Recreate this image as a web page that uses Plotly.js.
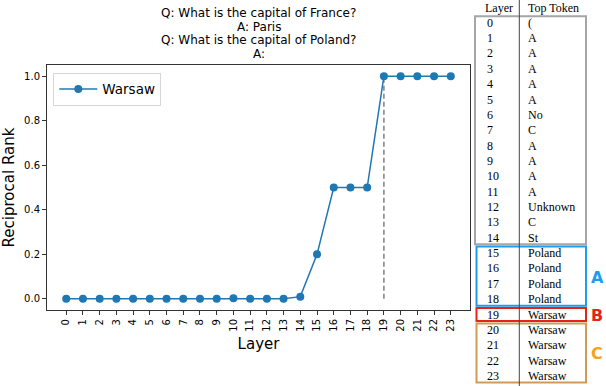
<!DOCTYPE html>
<html>
<head>
<meta charset="utf-8">
<script src="https://cdn.plot.ly/plotly-3.0.1.min.js"></script>
<style>html,body{margin:0;padding:0;background:#fff;}#chart{width:606px;height:386px;}</style>
</head>
<body>
<div id="chart"></div>
<script>
// ---- data ----
const layers = [0,1,2,3,4,5,6,7,8,9,10,11,12,13,14,15,16,17,18,19,20,21,22,23];
const reciprocalRank = [0,0,0,0,0,0,0,0,0,0,0.003,0,0,0,0.01,0.2,0.5,0.5,0.5,1,1,1,1,1];
const seriesName = 'Warsaw';
const answerLayer = 19;
const topTokens = ['(', 'A','A','A','A','A','No','C','A','A','A','A','Unknown','C','St',
                   'Poland','Poland','Poland','Poland','Warsaw','Warsaw','Warsaw','Warsaw','Warsaw'];
const tableHeader = ['Layer', 'Top Token'];
const groupLabels = ['', 'A', 'B', 'C'];
const groupStart = [0, 15, 19, 20];
const groupEnd = [14, 18, 19, 23];
const titleLines = ['Q: What is the capital of France?', 'A: Paris', 'Q: What is the capital of Poland?', 'A:'];
const yTicks = [0, 0.2, 0.4, 0.6, 0.8, 1.0];

// ---- layout helpers (pixel -> paper) ----
const W = 606, H = 386, L = 47, R = 470, T = 65, B = 310;
const px = x => (x - L) / (R - L);
const py = y => (B - y) / (B - T);
const rowY = i => 22.7 + 15.36 * i;

const groupLineColors = ['#a6a6a6', '#1f9bf0', '#e3241b', '#d29b55'];
const groupTextColors = ['#a6a6a6', '#1f9bf0', '#e3241b', '#f7a21b'];

const annotations = [];
const shapes = [];
const sans = 'DejaVu Sans, sans-serif';
const serif = 'Liberation Serif, Times New Roman, serif';

titleLines.forEach((t, i) => {
  annotations.push({xref:'paper', yref:'paper', x:0.5, y:py(12.7 + 13.9*i), text:t, showarrow:false,
    xanchor:'center', yanchor:'middle', font:{family:sans, size:12, color:'#000'}});
});

// table header
annotations.push({xref:'paper', yref:'paper', x:px(483), y:py(7.5), text:tableHeader[0], showarrow:false,
  xanchor:'left', yanchor:'middle', font:{family:serif, size:12, color:'#000'}});
annotations.push({xref:'paper', yref:'paper', x:px(526), y:py(7.5), text:tableHeader[1], showarrow:false,
  xanchor:'left', yanchor:'middle', font:{family:serif, size:12, color:'#000'}});

layers.forEach((l, i) => {
  annotations.push({xref:'paper', yref:'paper', x:px(484.5), y:py(rowY(i)), text:String(l), showarrow:false,
    xanchor:'left', yanchor:'middle', font:{family:serif, size:12, color:'#000'}});
  annotations.push({xref:'paper', yref:'paper', x:px(526), y:py(rowY(i)), text:topTokens[i], showarrow:false,
    xanchor:'left', yanchor:'middle', font:{family:serif, size:12, color:'#000'}});
});

groupLabels.forEach((g, k) => {
  const top = rowY(groupStart[k]) - 6.5;
  const bot = rowY(groupEnd[k]) + 6.5;
  const x0 = k === 0 ? 475 : 476.5;
  shapes.push({type:'rect', xref:'paper', yref:'paper', x0:px(x0), x1:px(586), y0:py(bot), y1:py(top),
    line:{color:groupLineColors[k], width:2}, fillcolor:'rgba(0,0,0,0)', layer:'above'});
  if (g) {
    annotations.push({xref:'paper', yref:'paper', x:px(597), y:py((top + bot) / 2 + 1), text:'<b>' + g + '</b>',
      showarrow:false, xanchor:'center', yanchor:'middle', font:{family:sans, size:16, color:groupTextColors[k]}});
  }
});

// table divider
shapes.push({type:'line', xref:'paper', yref:'paper', x0:px(519.3), x1:px(519.3), y0:py(386), y1:py(0),
  line:{color:'#444', width:1}, layer:'above'});

const traces = [
  {x:[answerLayer, answerLayer], y:[Math.min(...reciprocalRank), Math.max(...reciprocalRank)],
   mode:'lines', line:{color:'#808080', width:1.5, dash:'5px,3px'}, showlegend:false, hoverinfo:'skip'},
  {x:layers, y:reciprocalRank, name:seriesName, mode:'lines+markers',
   line:{color:'#1f77b4', width:1.5}, marker:{color:'#1f77b4', size:8}}
];

const layout = {
  width:W, height:H, margin:{l:L, r:W-R, t:T, b:H-B, pad:0},
  paper_bgcolor:'#fff', plot_bgcolor:'#fff',
  font:{family:sans, color:'#000'},
  showlegend:true,
  legend:{x:px(53.3), y:py(72.7), xanchor:'left', yanchor:'top', bgcolor:'rgba(255,255,255,0.8)',
    bordercolor:'#d6d6d6', borderwidth:1, itemwidth:38, font:{family:sans, size:13.5, color:'#000'}},
  xaxis:{range:[-1.15, 24.15], tickvals:layers, ticktext:layers.map(String), tickangle:-90,
    ticks:'outside', ticklen:4, tickcolor:'#333', showline:true, linecolor:'#333', linewidth:1, mirror:true,
    showgrid:false, zeroline:false, tickfont:{family:sans, size:10, color:'#000'},
    title:{text:'Layer', font:{family:sans, size:15, color:'#000'}, standoff:7}},
  yaxis:{range:[-0.05, 1.05], tickvals:yTicks, tickformat:'.1f',
    ticks:'outside', ticklen:4, tickcolor:'#333', showline:true, linecolor:'#333', linewidth:1, mirror:true,
    showgrid:false, zeroline:false, tickfont:{family:sans, size:10, color:'#000'},
    title:{text:'Reciprocal Rank', font:{family:sans, size:15, color:'#000'}, standoff:5}},
  annotations:annotations, shapes:shapes
};

Plotly.newPlot('chart', traces, layout, {staticPlot:true, displayModeBar:false});
</script>
</body>
</html>
